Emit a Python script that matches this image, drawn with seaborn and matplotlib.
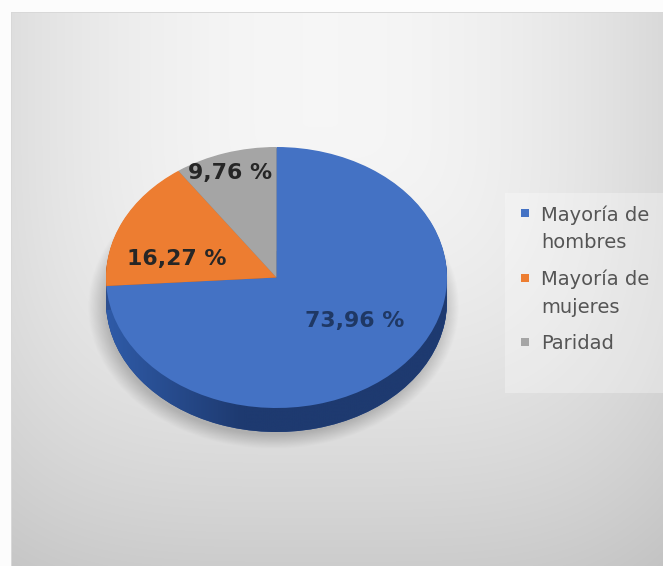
import numpy as np
import matplotlib
matplotlib.use("Agg")
import matplotlib.pyplot as plt
from matplotlib.patches import Rectangle
import seaborn as sns

# ---- data ----
categorias = ["Mayoría de\nhombres", "Mayoría de\nmujeres", "Paridad"]
porcentajes = [73.96, 16.27, 9.76]
colores_cara = ["#4472C4", "#ED7D31", "#A5A5A5"]
colores_lado = ["#2A4E92", "#B35A1E", "#7A7A7A"]
colores_texto = ["#1F3864", "#262626", "#262626"]

# ---- style ----
sns.set_theme(style="white")
plt.rcParams["font.family"] = ["DejaVu Sans"]
paleta = sns.color_palette(colores_cara)
paleta_lado = sns.color_palette(colores_lado)

W, H, DPI = 663, 566, 100
fig = plt.figure(figsize=(W / DPI, H / DPI), dpi=DPI)
fig.patch.set_facecolor("white")

# ---- soft grey background of the chart area ----
bg = fig.add_axes([0, 0, 1, 1], zorder=0)
yy, xx = np.mgrid[0:H, 0:W].astype(float)
hx = 0.09 * ((xx - 320) / 305) ** 2
vy = 0.155 * np.clip((yy - 120) / 430, 0, None) ** 1.5
v = np.clip(0.965 - np.sqrt(hx ** 2 + vy ** 2), 0, 1)
img = np.dstack([v, v, v])
img[:12, :, :] = 0.99
img[:, :11, :] = 0.99
img[12, 11:, :] = 0.85
img[12:, 11, :] = 0.85
bg.imshow(img, extent=(0, W, H, 0), aspect="auto", interpolation="bilinear")
bg.set_xlim(0, W)
bg.set_ylim(H, 0)
bg.axis("off")

# lighter panel behind the legend
fig.add_artist(Rectangle((505 / W, 1 - 393 / H), (W - 505) / W, 200 / H,
                         transform=fig.transFigure, facecolor="white",
                         alpha=0.3, edgecolor="none", zorder=1))

# ---- pie axes: unit circle is drawn as an ellipse ----
cx, cy, rx, ry = 276.5, 277.5, 170.5, 130.5
xl, xr = -1.3, 1.3
yb, yt = -1.45, 1.25
ax = fig.add_axes([(cx + xl * rx) / W, (H - (cy - yb * ry)) / H,
                   (xr - xl) * rx / W, (yt - yb) * ry / H], zorder=2)
ax.patch.set_alpha(0)

espesor = 24 / ry
capas = 30

# shadow under the disc
gx, gy = np.meshgrid(np.linspace(-1.3, 1.3, 400), np.linspace(-1.45, 0.4, 300))
r = np.sqrt((gx + 0.02) ** 2 + (gy + espesor + 0.04) ** 2)
sombra = np.zeros(gx.shape + (4,))
sombra[..., :3] = 0.42
sombra[..., 3] = 0.4 * np.clip((1.09 - r) / 0.11, 0, 1)
ax.imshow(sombra, extent=(-1.3, 1.3, -1.45, 0.4), origin="lower",
          aspect="auto", zorder=0, interpolation="bilinear")

# side of the disc: stacked copies of the pie shifted downward
base = None
for k in range(capas, 0, -1):
    wl, _ = ax.pie(porcentajes, colors=paleta_lado, startangle=90,
                   counterclock=False, center=(0, -espesor * k / capas),
                   wedgeprops=dict(linewidth=0))
    for w in wl:
        w.set_zorder(1)
    if base is None:
        base = wl

# shading of the side (lighter on the left, darker towards the bottom)
sx, sy = np.meshgrid(np.linspace(-1.05, 1.05, 300), np.linspace(-1.3, 0.2, 200))
t = np.clip((sx + 1.0) / 0.8, 0, 1)
claro = np.array([0x2F, 0x5B, 0xA8]) / 255
oscuro = np.array([0x1E, 0x3A, 0x70]) / 255
lado = claro[None, None, :] * (1 - t[..., None]) + oscuro[None, None, :] * t[..., None]
im = ax.imshow(lado, extent=(-1.05, 1.05, -1.3, 0.2), origin="lower",
               aspect="auto", zorder=2, interpolation="bilinear")
im.set_clip_path(base[0])

# top face
wedges, _ = ax.pie(porcentajes, colors=paleta, startangle=90,
                   counterclock=False, wedgeprops=dict(linewidth=0))
for w in wedges:
    w.set_zorder(3)

# value labels
pos_etiquetas = [(0.46, -0.333), (-0.585, 0.142), (-0.27, 0.80)]
for valor, (x, y), c in zip(porcentajes, pos_etiquetas, colores_texto):
    ax.text(x, y, f"{valor:.2f} %".replace(".", ","), ha="center", va="center",
            fontsize=15.8, fontweight="bold", color=c, zorder=5)

ax.set_aspect("auto")
ax.set_xlim(xl, xr)
ax.set_ylim(yb, yt)
ax.axis("off")

# ---- legend ----
fs = 14
sq = 8 * 72 / DPI
leg = fig.legend(wedges, categorias, loc="upper left",
                 bbox_to_anchor=(521 / W, 1 - 205 / H), borderaxespad=0,
                 borderpad=0, frameon=False, fontsize=fs,
                 handlelength=sq / fs, handleheight=sq / fs,
                 handletextpad=12 * 72 / DPI / fs, labelspacing=0.9)
for txt in leg.get_texts():
    txt.set_color("#555555")
    txt.set_linespacing(1.58)
for h, lab in zip(leg.legend_handles, categorias):
    h.set_width(sq)
    h.set_height(sq)
    h.set_x(0)
    if "\n" in lab:
        h.set_y(1.176 * fs - sq / 2)
    else:
        h.set_y(0.365 * fs - sq / 2)

fig.savefig("out.png", dpi=DPI)
